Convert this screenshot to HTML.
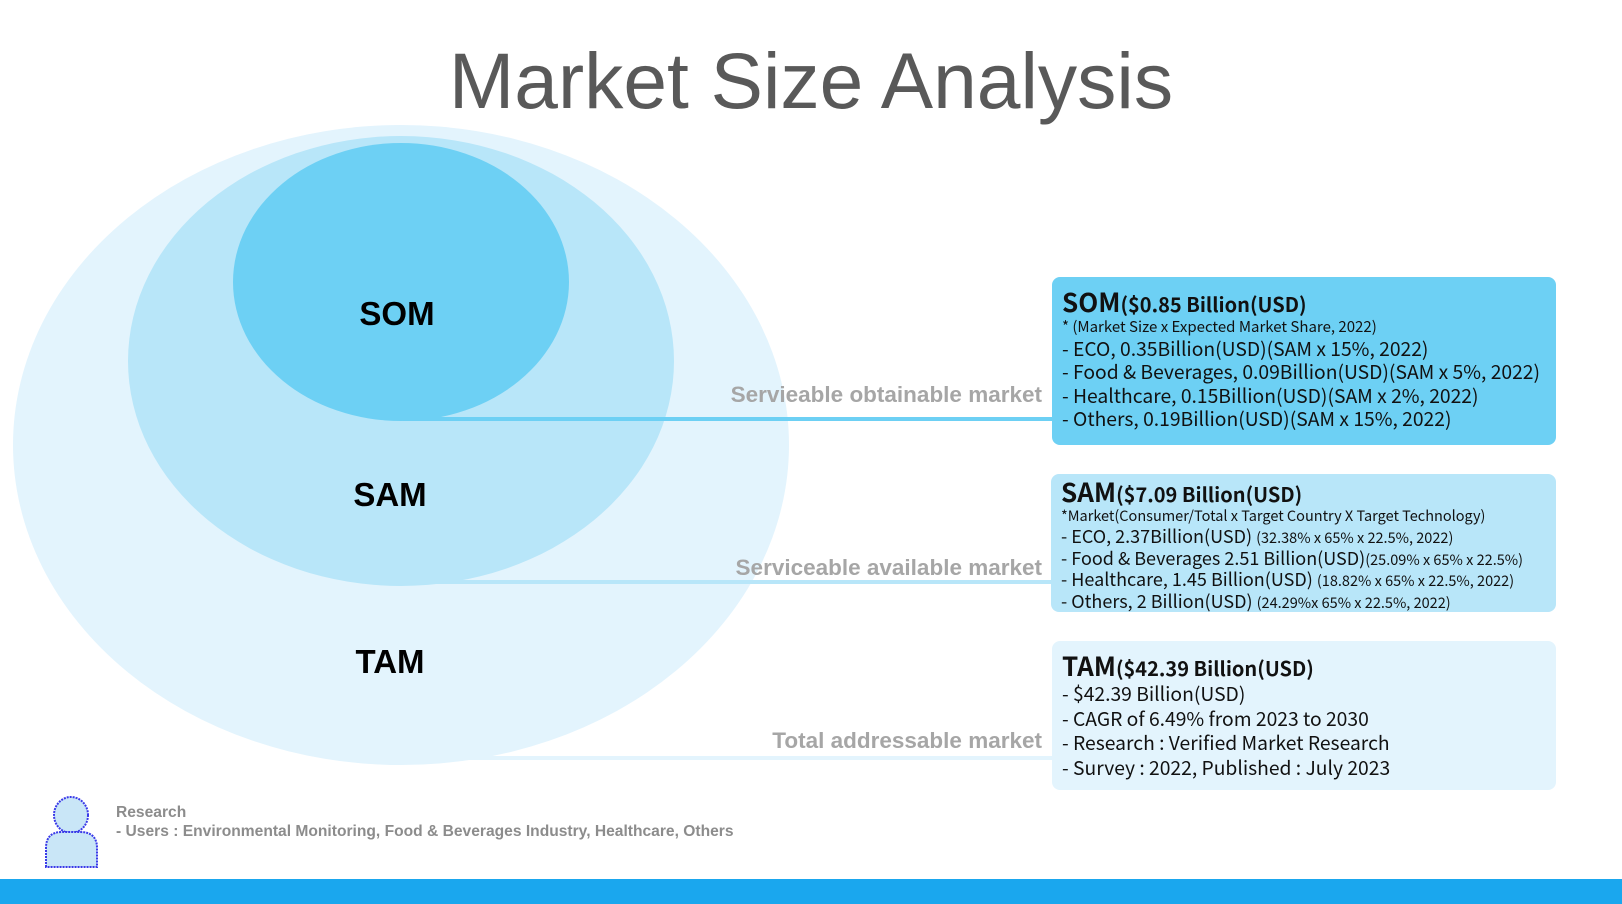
<!DOCTYPE html>
<html><head><meta charset="utf-8"><style>
*{margin:0;padding:0;box-sizing:border-box}
body{width:1622px;height:904px;position:relative;background:#fff;overflow:hidden;font-family:"Liberation Sans",sans-serif}
.a{position:absolute;white-space:nowrap}
.box{position:absolute;border-radius:8px;padding:8px 10px;font-family:"Noto Sans CJK KR","Liberation Sans",sans-serif;color:#111;font-size:19.3px;white-space:nowrap}
.box div{height:23.3px;line-height:23.3px;overflow:visible}
.box div.t{height:30px;line-height:30px;font-weight:bold;font-size:20px}
.box div.t span{font-size:26px}
.s{font-size:14.5px}
.lab{position:absolute;right:580px;color:#a6a6a6;font-weight:bold;font-size:22.5px;white-space:nowrap}
.big{position:absolute;font-weight:bold;font-size:33px;transform:translateX(-50%);color:#000}
</style></head><body>
<div class="a" style="left:0;width:1622px;text-align:center;top:36px;font-size:78.5px;color:#595959">Market Size Analysis</div>
<svg class="a" style="left:0;top:0" width="1622" height="904">
<ellipse cx="401" cy="445" rx="388" ry="320" fill="#e3f4fd"/>
<ellipse cx="401" cy="361" rx="273" ry="225" fill="#b8e6f9"/>
<ellipse cx="401" cy="282" rx="168" ry="139" fill="#6dd0f4"/>
<rect x="403" y="417" width="650" height="4" fill="#6dd0f4"/>
<rect x="403" y="580" width="650" height="4" fill="#b8e6f9"/>
<rect x="403" y="756" width="650" height="4" fill="#e3f4fd"/>
<g fill="#c9e6f7" stroke="#3a3ae8" stroke-width="2" stroke-dasharray="2 1">
<ellipse cx="71" cy="815" rx="17" ry="18"/>
<path d="M46 867 V848 Q46 832 62 832 H80 Q97 832 97 848 V867 Z"/>
</g>
<rect x="0" y="879" width="1622" height="25" fill="#1aa7ee"/>
</svg>
<div class="big" style="left:397px;top:295px">SOM</div>
<div class="big" style="left:390px;top:476px">SAM</div>
<div class="big" style="left:390px;top:643px">TAM</div>
<div class="lab" style="top:382px">Servieable obtainable market</div>
<div class="lab" style="top:555px">Serviceable available market</div>
<div class="lab" style="top:728px">Total addressable market</div>
<div class="box" style="left:1052px;top:277px;width:504px;height:168px;background:#6dd0f4;padding-top:10px">
<div class="t"><span>SOM</span>($0.85 Billion(USD)</div>
<div style="font-size:15px;height:20px;line-height:20px">* (Market Size x Expected Market Share, 2022)</div>
<div>- ECO, 0.35Billion(USD)(SAM x 15%, 2022)</div>
<div>- Food &amp; Beverages, 0.09Billion(USD)(SAM x 5%, 2022)</div>
<div>- Healthcare, 0.15Billion(USD)(SAM x 2%, 2022)</div>
<div>- Others, 0.19Billion(USD)(SAM x 15%, 2022)</div></div>
<div class="box" style="left:1051px;top:474px;width:505px;height:138px;background:#b8e6f9;padding-top:4px;font-size:18px">
<div class="t" style="height:28px;line-height:28px"><span>SAM</span>($7.09 Billion(USD)</div>
<div style="font-size:14.5px;height:20px;line-height:20px">*Market(Consumer/Total x Target Country X Target Technology)</div>
<div style="height:21.6px;line-height:21.6px">- ECO, 2.37Billion(USD) <span class="s">(32.38% x 65% x 22.5%, 2022)</span></div>
<div style="height:21.6px;line-height:21.6px">- Food &amp; Beverages 2.51 Billion(USD)<span class="s">(25.09% x 65% x 22.5%)</span></div>
<div style="height:21.6px;line-height:21.6px">- Healthcare, 1.45 Billion(USD) <span class="s">(18.82% x 65% x 22.5%, 2022)</span></div>
<div style="height:21.6px;line-height:21.6px">- Others, 2 Billion(USD) <span class="s">(24.29%x 65% x 22.5%, 2022)</span></div></div>
<div class="box" style="left:1052px;top:641px;width:504px;height:149px;background:#e3f4fd;padding-top:10px">
<div class="t"><span>TAM</span>($42.39 Billion(USD)</div>
<div style="height:24.5px;line-height:24.5px">- $42.39 Billion(USD)</div>
<div style="height:24.5px;line-height:24.5px">- CAGR of 6.49% from 2023 to 2030</div>
<div style="height:24.5px;line-height:24.5px">- Research : Verified Market Research</div>
<div style="height:24.5px;line-height:24.5px">- Survey : 2022, Published : July 2023</div></div>
<div class="a" style="left:116px;top:803px;color:#8c8c8c;font-weight:bold;font-size:15.6px;line-height:19px">Research<br>- Users : Environmental Monitoring, Food &amp; Beverages Industry, Healthcare, Others</div>
</body></html>
